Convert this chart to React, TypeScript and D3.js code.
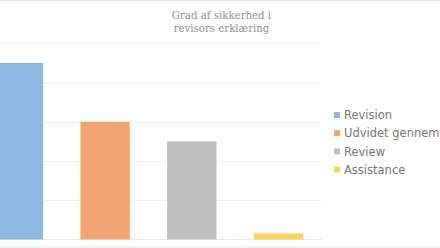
import React from "react";
import * as d3 from "d3";

const categories = ["Revision", "Udvidet gennemgang", "Review", "Assistance"];
const values = [45, 30, 25, 1.5];
const colors = ["#8db8e1", "#f0a46f", "#bfbfbf", "#fcd25a"];
const legendLabels = ["Revision", "Udvidet gennemgang", "Review", "Assistance"];
const yTicks = [0, 10, 20, 30, 40, 50];
const titleLines = ["Grad af sikkerhed i", "revisors erklæring"];

export default function App() {
  const W = 440, H = 248;
  const x = d3.scaleBand<string>().domain(categories).range([-24.9, 321.8]).paddingInner(0.43).paddingOuter(0.215);
  const y = d3.scaleLinear().domain([0, 50]).range([239.3, 43.3]);
  const legend = d3.scalePoint<string>().domain(legendLabels).range([115, 169.5]);
  return (
    <svg width={W} height={H} style={{ position: "fixed", left: 0, top: 0, background: "#fff" }}>
      <rect x={-1} y={0.5} width={W + 2} height={246.5} fill="#fff" stroke="#e2e2e2" strokeWidth={1} />
      {yTicks.map((t) => (
        <line key={t} x1={0} x2={321.8} y1={Math.round(y(t)) + 0.5} y2={Math.round(y(t)) + 0.5}
          stroke={t === 0 ? "#e6e6e6" : "#f0f0f0"} strokeWidth={1} />
      ))}
      {categories.map((c, i) => (
        <rect key={c} x={x(c)} y={y(values[i])} width={x.bandwidth()} height={y(0) - y(values[i])} fill={colors[i]} />
      ))}
      {titleLines.map((l, i) => (
        <text key={i} x={221.5} y={19 + i * 13} textAnchor="middle" fontFamily="'DejaVu Serif'" fontSize={10.2} fill="#8f8f8f">{l}</text>
      ))}
      {legendLabels.map((l, i) => (
        <g key={l} transform={`translate(0,${legend(l)})`}>
          <rect x={334} y={-3} width={6} height={6} fill={colors[i]} />
          <text x={344} y={4.2} fontFamily="'DejaVu Sans'" fontSize={11.5} fill="#777">{l}</text>
        </g>
      ))}
    </svg>
  );
}
